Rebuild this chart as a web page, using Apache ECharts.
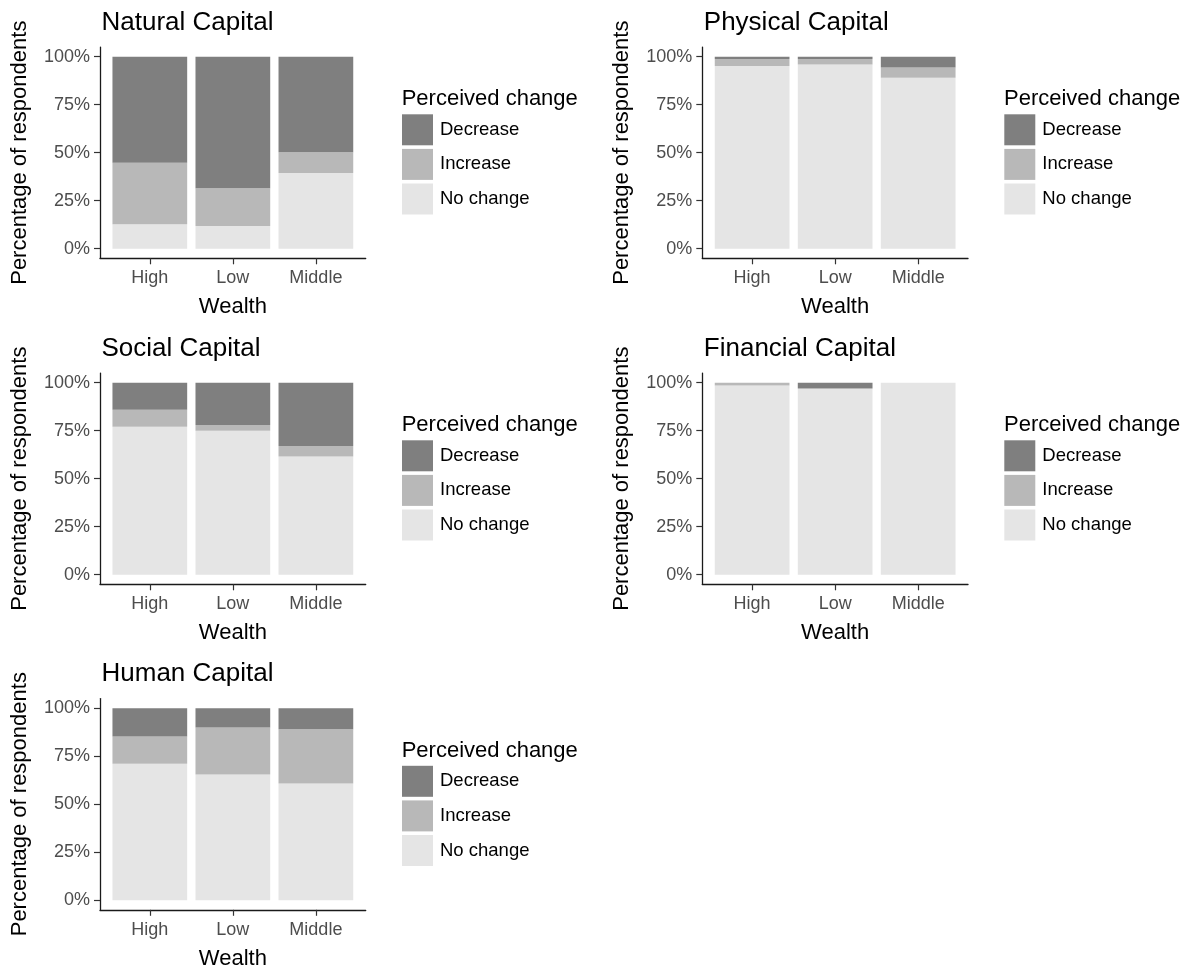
<!DOCTYPE html>
<html>
<head>
<meta charset="utf-8">
<title>Perceived change in capitals by wealth group</title>
<script src="https://cdn.jsdelivr.net/npm/echarts@6/dist/echarts.min.js"></script>
<style>
  html, body { margin: 0; padding: 0; background: #fff; }
  #chart { width: 1200px; height: 972px; }
</style>
</head>
<body>
<div id="chart"></div>
<script>
// Wealth groups on the x axis
const categories = ['High', 'Low', 'Middle'];
// Legend order (top to bottom)
const legendOrder = ['Decrease', 'Increase', 'No change'];
const yTickValues = [0, 25, 50, 75, 100];

// Percentage of respondents per wealth group: High, Low, Middle
const naturalDecrease = [55.2, 68.5, 49.8];
const naturalIncrease = [32.1, 19.7, 10.8];
const naturalNoChange = [12.7, 11.8, 39.4];

const physicalDecrease = [1.2, 1.2, 5.6];
const physicalIncrease = [3.6, 2.8, 5.4];
const physicalNoChange = [95.2, 96.0, 89.0];

const socialDecrease = [14.1, 22.0, 33.0];
const socialIncrease = [8.8, 3.0, 5.4];
const socialNoChange = [77.1, 75.0, 61.6];

const financialDecrease = [0, 3.0, 0];
const financialIncrease = [1.4, 0, 0];
const financialNoChange = [98.6, 97.0, 100];

const humanDecrease = [14.7, 10.1, 10.9];
const humanIncrease = [14.2, 24.4, 28.3];
const humanNoChange = [71.1, 65.5, 60.8];

const panels = [
  { title: 'Natural Capital', decrease: naturalDecrease, increase: naturalIncrease, noChange: naturalNoChange, col: 0, row: 0 },
  { title: 'Physical Capital', decrease: physicalDecrease, increase: physicalIncrease, noChange: physicalNoChange, col: 1, row: 0 },
  { title: 'Social Capital', decrease: socialDecrease, increase: socialIncrease, noChange: socialNoChange, col: 0, row: 1 },
  { title: 'Financial Capital', decrease: financialDecrease, increase: financialIncrease, noChange: financialNoChange, col: 1, row: 1 },
  { title: 'Human Capital', decrease: humanDecrease, increase: humanIncrease, noChange: humanNoChange, col: 0, row: 2 }
];

const FONT = "'Liberation Sans', Arial, sans-serif";
const COLORS = { 'Decrease': '#7f7f7f', 'Increase': '#b8b8b8', 'No change': '#e5e5e5' };

// Panel geometry
const colLeft = [100, 702.3];
const rowTop = [47.1, 373.1, 698.6];
const plotW = 265.7;
const plotH = 211.2;

const grids = [], xAxes = [], yAxes = [], series = [], legends = [], graphics = [];

panels.forEach((p, i) => {
  const left = colLeft[p.col];
  const top = rowTop[p.row];

  grids.push({ left: left, top: top, width: plotW, height: plotH, containLabel: false });

  // Group positions 1..3 on a continuous axis padded by 0.6 on each side
  xAxes.push({
    gridIndex: i,
    type: 'value',
    min: 0.4,
    max: 3.6,
    name: 'Wealth',
    nameLocation: 'middle',
    nameGap: 38,
    nameTextStyle: { fontFamily: FONT, fontSize: 22, color: '#000' },
    axisLine: { show: true, onZero: false, lineStyle: { color: '#1a1a1a', width: 1.3 } },
    axisTick: { show: true, length: 6, customValues: [1, 2, 3], lineStyle: { color: '#333', width: 1.2 } },
    axisLabel: {
      show: true,
      margin: 11,
      customValues: [1, 2, 3],
      formatter: v => categories[Math.round(v) - 1] || '',
      fontFamily: FONT, fontSize: 18, color: '#4d4d4d'
    },
    splitLine: { show: false }
  });

  yAxes.push({
    gridIndex: i,
    type: 'value',
    min: -5,
    max: 105,
    name: 'Percentage of respondents',
    nameLocation: 'middle',
    nameGap: 69,
    nameTextStyle: { fontFamily: FONT, fontSize: 22, color: '#000' },
    axisLine: { show: true, onZero: false, lineStyle: { color: '#1a1a1a', width: 1.3 } },
    axisTick: { show: true, length: 6, customValues: yTickValues, lineStyle: { color: '#333', width: 1.2 } },
    axisLabel: {
      show: true,
      margin: 10,
      customValues: yTickValues,
      formatter: v => v + '%',
      fontFamily: FONT, fontSize: 18, color: '#4d4d4d'
    },
    splitLine: { show: false }
  });

  // Stacked from the bottom: No change, Increase, Decrease.
  // The percentage comes first in each item so that it is the stacked dimension.
  const parts = [
    ['No change', p.noChange],
    ['Increase', p.increase],
    ['Decrease', p.decrease]
  ];
  parts.forEach(([name, vals]) => {
    series.push({
      type: 'bar',
      name: name,
      xAxisIndex: i,
      yAxisIndex: i,
      stack: 'panel' + i,
      barWidth: '90%',
      encode: { x: 1, y: 0 },
      itemStyle: { color: COLORS[name] },
      emphasis: { disabled: true },
      silent: true,
      data: vals.map((v, k) => [v, k + 1])
    });
  });

  legends.push({
    orient: 'vertical',
    left: left + 302,
    top: top + 67.2,
    padding: 0,
    itemWidth: 31,
    itemHeight: 31,
    itemGap: 3.6,
    icon: 'rect',
    selectedMode: false,
    data: legendOrder,
    textStyle: { fontFamily: FONT, fontSize: 18.5, color: '#000', padding: [10, 0, 0, 2] }
  });

  // Panel title
  graphics.push({
    type: 'text',
    left: left + 1.5,
    top: top - 37.5,
    style: { text: p.title, font: '26px ' + FONT, fill: '#000' }
  });
  // Legend title
  graphics.push({
    type: 'text',
    left: left + 301.7,
    top: top + 41,
    style: { text: 'Perceived change', font: '22px ' + FONT, fill: '#000' }
  });
});

const chart = echarts.init(document.getElementById('chart'), null, { renderer: 'canvas' });
chart.setOption({
  animation: false,
  backgroundColor: '#fff',
  grid: grids,
  xAxis: xAxes,
  yAxis: yAxes,
  legend: legends,
  series: series,
  graphic: graphics
});
</script>
</body>
</html>
